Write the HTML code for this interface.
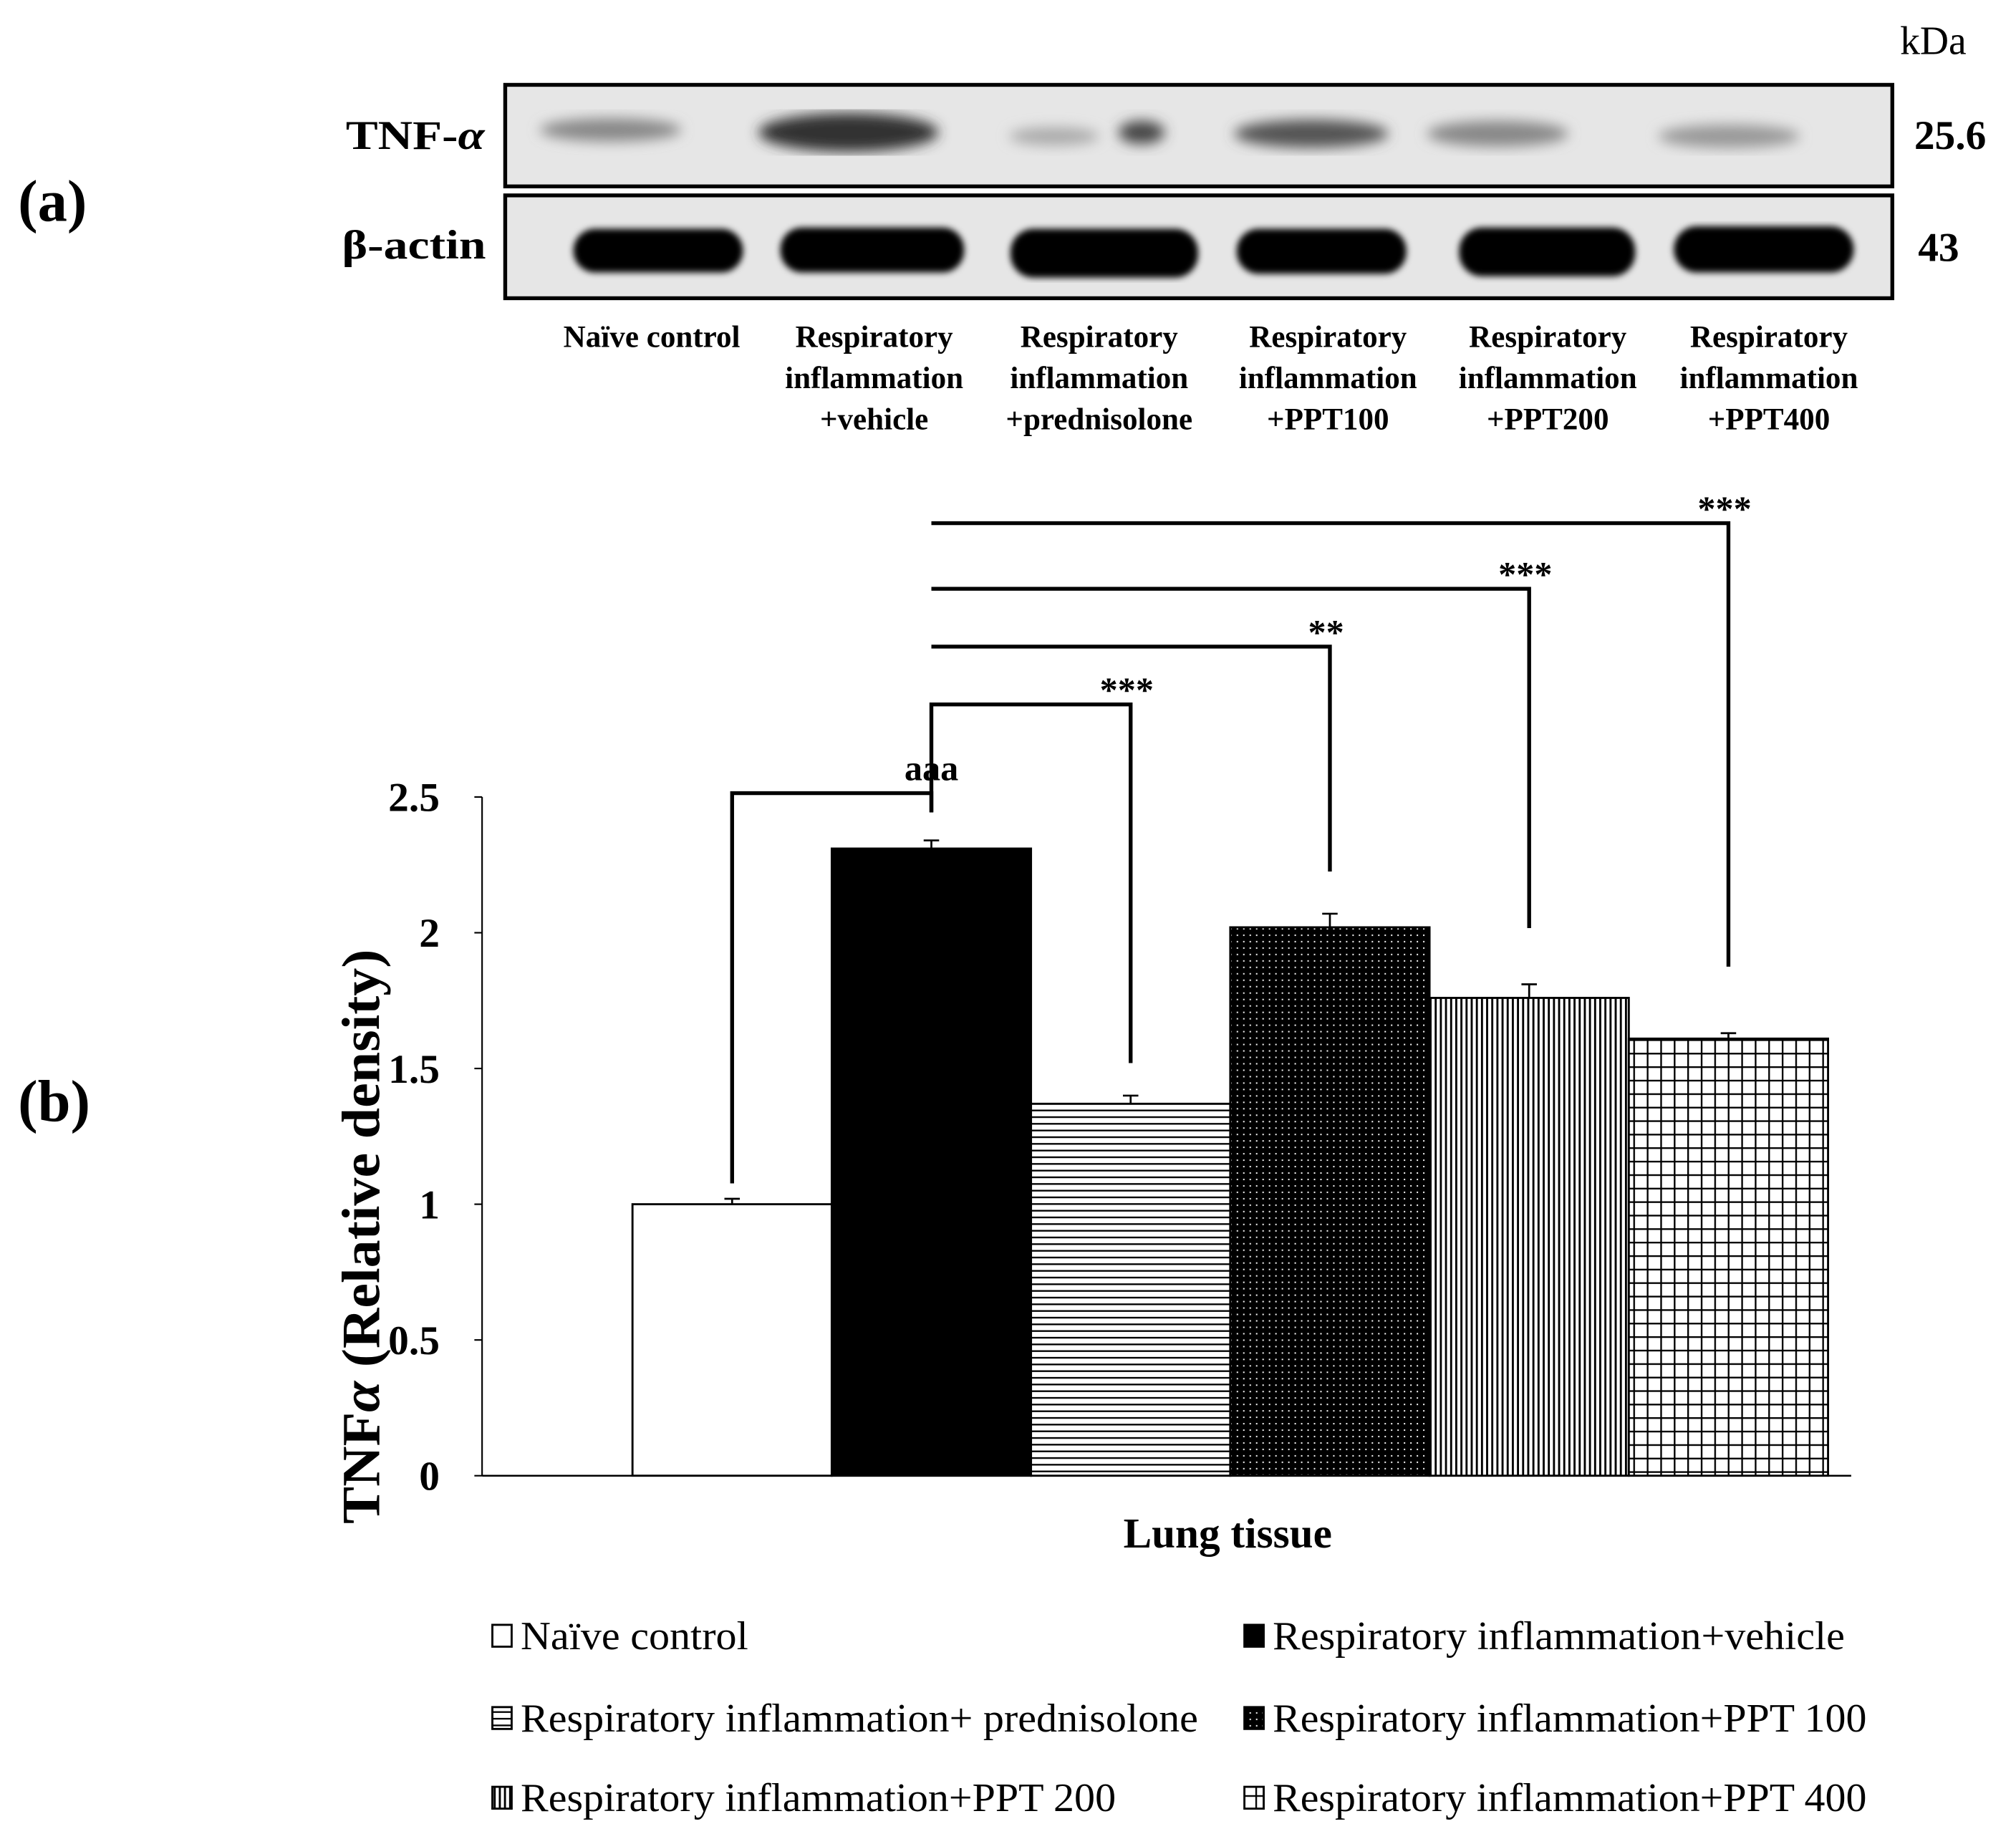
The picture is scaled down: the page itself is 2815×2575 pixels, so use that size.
<!DOCTYPE html>
<html><head><meta charset="utf-8"><style>
html,body{margin:0;padding:0;background:#fff;}
svg{display:block;}
text{font-family:"Liberation Serif",serif;fill:#000;}
</style></head><body>
<svg id="fig" width="2815" height="2575" viewBox="0 0 1568.2 1434.5" xmlns="http://www.w3.org/2000/svg">
<defs>
<pattern id="pHor" width="8" height="5.2" patternUnits="userSpaceOnUse"><rect width="8" height="5.2" fill="#fff"/><rect y="0" width="8" height="1.3" fill="#000"/></pattern>
<pattern id="pDot" width="5" height="5" patternUnits="userSpaceOnUse"><rect width="5" height="5" fill="#000"/><rect x="2" y="2" width="1.1" height="1.1" fill="#fff"/></pattern>
<pattern id="pVer" width="4" height="8" patternUnits="userSpaceOnUse"><rect width="4" height="8" fill="#fff"/><rect width="1.6" height="8" fill="#000"/></pattern>
<pattern id="pGrid" width="10.5" height="10.5" patternUnits="userSpaceOnUse"><rect width="10.5" height="10.5" fill="#fff"/><rect width="1.3" height="10.5" fill="#000"/><rect width="10.5" height="1.3" fill="#000"/></pattern>
<filter id="blur"><feGaussianBlur stdDeviation="5"/></filter>
<filter id="blur2"><feGaussianBlur stdDeviation="2.5"/></filter>
</defs>

<!-- Panel (a) -->
<text x="14" y="172" font-size="46" font-weight="bold">(a)</text>
<text x="1478" y="42" font-size="31">kDa</text>
<g>
<rect x="393" y="66" width="1079" height="79" fill="#e6e6e6" stroke="#000" stroke-width="3"/>
<g filter="url(#blur)">
<ellipse cx="475" cy="101" rx="55" ry="9" fill="#888"/>
<ellipse cx="660" cy="103" rx="70" ry="15" fill="#333"/>
<ellipse cx="820" cy="106" rx="35" ry="7" fill="#aaa"/>
<ellipse cx="888" cy="103" rx="18" ry="9" fill="#444"/>
<ellipse cx="1020" cy="104" rx="60" ry="11" fill="#555"/>
<ellipse cx="1165" cy="104" rx="55" ry="10" fill="#888"/>
<ellipse cx="1345" cy="106" rx="55" ry="9" fill="#999"/>
</g>
</g>
<g>
<rect x="393" y="152" width="1079" height="80" fill="#e6e6e6" stroke="#000" stroke-width="3"/>
<g filter="url(#blur2)">
<rect x="446" y="178" width="132" height="34" rx="17" fill="#000"/>
<rect x="607" y="177" width="143" height="35" rx="17" fill="#000"/>
<rect x="786" y="178" width="146" height="38" rx="18" fill="#000"/>
<rect x="962" y="178" width="132" height="35" rx="17" fill="#000"/>
<rect x="1135" y="177" width="137" height="38" rx="18" fill="#000"/>
<rect x="1302" y="176" width="140" height="36" rx="18" fill="#000"/>
</g>
</g>
<text x="269" y="116" font-size="32" font-weight="bold" textLength="108" lengthAdjust="spacingAndGlyphs">TNF-<tspan font-style="italic">α</tspan></text>
<text x="266" y="201" font-size="32" font-weight="bold" textLength="112" lengthAdjust="spacingAndGlyphs">β-actin</text>
<text x="1489" y="116" font-size="32" font-weight="bold">25.6</text>
<text x="1492" y="203" font-size="32" font-weight="bold">43</text>
<g id="lanes" font-size="24" font-weight="bold" text-anchor="middle"></g>

<!-- Panel (b) -->
<text x="14" y="872" font-size="46" font-weight="bold">(b)</text>
<g id="chart"></g>
<text transform="translate(295,962) rotate(-90)" font-size="42" font-weight="bold" text-anchor="middle" textLength="447" lengthAdjust="spacingAndGlyphs">TNF<tspan font-style="italic">α</tspan> (Relative density)</text>
<text x="955" y="1204" font-size="33" font-weight="bold" text-anchor="middle">Lung tissue</text>
<g id="legend"></g>
</svg>
<script>
const categories = ["Naïve control","Respiratory inflammation+vehicle","Respiratory inflammation+ prednisolone","Respiratory inflammation+PPT 100","Respiratory inflammation+PPT 200","Respiratory inflammation+PPT 400"];
const values = [1.0, 2.31, 1.37, 2.02, 1.76, 1.61];
const errors = [0.02, 0.03, 0.03, 0.05, 0.05, 0.02];
const yTicks = [0, 0.5, 1, 1.5, 2, 2.5];
const yTickLabels = ["0","0.5","1","1.5","2","2.5"];
const sigLabels = ["aaa","***","**","***","***"];
const laneLines = [["Naïve control"],["Respiratory","inflammation","+vehicle"],["Respiratory","inflammation","+prednisolone"],["Respiratory","inflammation","+PPT100"],["Respiratory","inflammation","+PPT200"],["Respiratory","inflammation","+PPT400"]];

const NS="http://www.w3.org/2000/svg";
function mk(tag, attrs, parent){const e=document.createElementNS(NS,tag);for(const k in attrs)e.setAttribute(k,attrs[k]);parent.appendChild(e);return e;}
const fills=["#fff","#000","url(#pHor)","url(#pDot)","url(#pVer)","url(#pGrid)"];
const X0=375, plotRight=1440, barStart=492, barW=155, Y0=1148, Ytop=620, yMax=2.5;
const y = v => Y0 - (v/yMax)*(Y0-Ytop);
const xL = i => barStart + i*barW;
const xC = i => xL(i) + barW/2;

const lanes=document.getElementById('lanes');
const laneCx=[507,680,855,1033,1204,1376];
laneLines.forEach((lines,i)=>{
  lines.forEach((s,j)=>{
    const t=mk('text',{x:laneCx[i],y:270+j*32},lanes);
    
    
    t.textContent=s;
  });
});

const chart=document.getElementById('chart');
const ya=mk('line',{x1:X0,y1:Ytop,x2:X0,y2:Y0,stroke:'#000','stroke-width':1.2},chart);


yTicks.forEach((v,i)=>{
  const tk=mk('line',{x1:X0-6,y1:y(v),x2:X0,y2:y(v),stroke:'#000','stroke-width':1.2},chart);
  
  
  const t=mk('text',{x:X0-33,y:y(v)+11,'font-size':32,'font-weight':'bold','text-anchor':'end'},chart);
  
  
  t.textContent=yTickLabels[i];
});
values.forEach((v,i)=>{
  const b=mk('rect',{x:xL(i),y:y(v),width:barW,height:Y0-y(v),fill:fills[i],stroke:'#000','stroke-width':1.6},chart);
  
  
  const e=errors[i];
  const eb=mk('path',{d:`M${xC(i)} ${y(v)} V${y(v+e)} M${xC(i)-6} ${y(v+e)} H${xC(i)+6}`,stroke:'#000','stroke-width':1.5,fill:'none'},chart);
  
  
});
const xa=mk('line',{x1:X0,y1:Y0,x2:plotRight,y2:Y0,stroke:'#000','stroke-width':1.4},chart);



const gap=8;
{
  const by=617;
  const p=mk('path',{d:`M${xC(0)} ${y(values[0]+errors[0])-gap-4} V${by} H${xC(1)} V${y(values[1]+errors[1])-gap-14}`,stroke:'#000','stroke-width':3,fill:'none'},chart);
  
  
  const t=mk('text',{x:xC(1),y:by-10,'font-size':28,'font-weight':'bold','text-anchor':'middle'},chart);
  
  
  t.textContent=sigLabels[0];
}
const bracketYs=[548,503,458,407];
const legBottoms=[827,678,722,752];
for(let k=0;k<4;k++){
  const i=k+2, by=bracketYs[k];
  const p=mk('path',{d:`M${xC(1)} ${k===0?632:by} V${by} H${xC(i)} V${legBottoms[k]}`,stroke:'#000','stroke-width':3,fill:'none'},chart);
  
  
  const t=mk('text',{x:xC(i)-3,y:by-2,'font-size':28,'font-weight':'bold','text-anchor':'middle'},chart);
  
  
  t.textContent=sigLabels[k+1];
}

const lg=document.getElementById('legend');
const legPos=[[383,1281,177],[968,1281,445],[383,1345,527],[968,1345,462],[383,1407,463],[968,1407,462]];
categories.forEach((c,i)=>{
  const [lx,ly,tw]=legPos[i];
  const sw=mk('rect',{x:lx,y:ly-17,width:15,height:17,fill:fills[i],stroke:'#000','stroke-width':1.6},lg);
  
  
  const t=mk('text',{x:lx+22,y:ly+2,'font-size':31,textLength:tw,lengthAdjust:'spacingAndGlyphs'},lg);
  
  
  t.textContent=c;
});
</script>
</body></html>
